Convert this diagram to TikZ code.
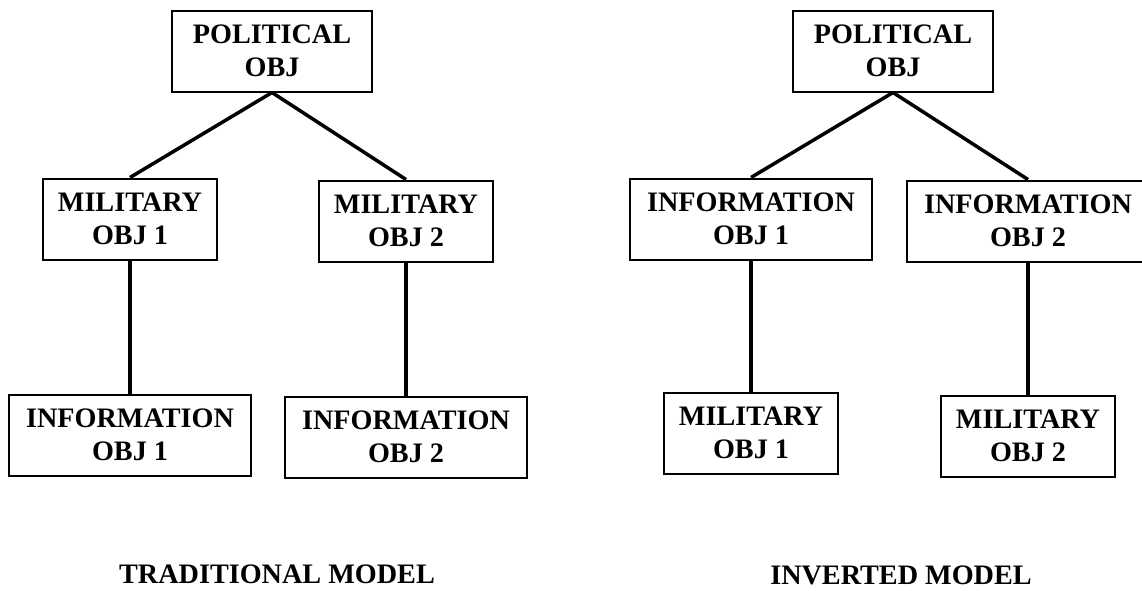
\documentclass[tikz,border=0pt]{standalone}
\usepackage{fontspec}
\setmainfont{Liberation Serif}
\newcommand{\boxfont}{\fontsize{28.2}{33.3}\selectfont\bfseries}

\begin{document}
\begin{tikzpicture}[
  x=1pt, y=-1pt,
  obj/.style={draw, line width=2pt, align=center, inner sep=0pt,
    minimum height=81pt, font=\boxfont},
  polbox/.style={obj, minimum width=200pt},
  milbox/.style={obj, minimum width=174pt},
  infbox/.style={obj, minimum width=242pt},
  lnk/.style={line width=3.5pt},
  ttl/.style={font=\boxfont, inner sep=0pt}
]
\clip (0,0) rectangle (1142,590);

% traditional model
\node [polbox] (pol1) at (272,51) {POLITICAL\\OBJ};
\node [milbox] (mil1) at (130,219) {MILITARY\\OBJ 1};
\node [milbox] (mil2) at (406,221) {MILITARY\\OBJ 2};
\node [infbox] (inf1) at (130,435) {INFORMATION\\OBJ 1};
\node [infbox] (inf2) at (406,437) {INFORMATION\\OBJ 2};
\node [ttl] (trad) at (277,574) {TRADITIONAL MODEL};

\draw [lnk] (pol1.south) -- (mil1.north);
\draw [lnk] (pol1.south) -- (mil2.north);
\draw [lnk] (mil1) -- (inf1);
\draw [lnk] (mil2) -- (inf2);

% inverted model
\node [polbox] (pol2) at (893,51) {POLITICAL\\OBJ};
\node [infbox] (inf3) at (751,219) {INFORMATION\\OBJ 1};
\node [infbox] (inf4) at (1028,221) {INFORMATION\\OBJ 2};
\node [milbox] (mil3) at (751,433) {MILITARY\\OBJ 1};
\node [milbox] (mil4) at (1028,436) {MILITARY\\OBJ 2};
\node [ttl] (inv) at (901,575) {INVERTED MODEL};

\draw [lnk] (pol2.south) -- (inf3.north);
\draw [lnk] (pol2.south) -- (inf4.north);
\draw [lnk] (inf3) -- (mil3);
\draw [lnk] (inf4) -- (mil4);
\end{tikzpicture}
\end{document}
